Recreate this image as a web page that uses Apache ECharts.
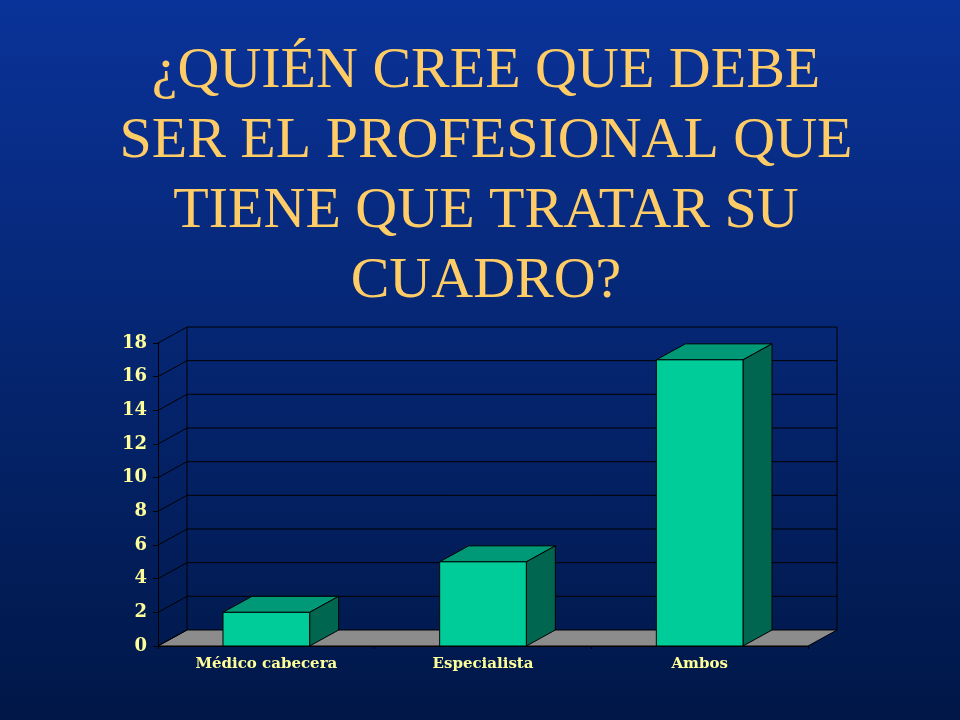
<!DOCTYPE html>
<html>
<head>
<meta charset="utf-8">
<script src="https://cdn.jsdelivr.net/npm/echarts@6/dist/echarts.min.js"></script>
<style>
html,body{margin:0;padding:0;width:960px;height:720px;overflow:hidden;}
#c{width:960px;height:720px;}
</style>
</head>
<body>
<div id="c"></div>
<script>
var categories = ['Médico cabecera', 'Especialista', 'Ambos'];
var values = [2, 5, 17];
var yTicks = [0, 2, 4, 6, 8, 10, 12, 14, 16, 18];
var titleText = '¿QUIÉN CREE QUE DEBE\nSER EL PROFESIONAL QUE\nTIENE QUE TRATAR SU\nCUADRO?';

var DX = 29, DY = -16;

var chart = echarts.init(document.getElementById('c'));

function frameRender(params, api) {
  var cs = params.coordSys;
  var x0 = cs.x, x1 = cs.x + cs.width;
  var yBase = api.coord([0, 0])[1];
  var children = [];
  children.push({
    type: 'polygon',
    shape: {points: [[x0, yBase], [x1, yBase], [x1 + DX, yBase + DY], [x0 + DX, yBase + DY]]},
    style: {fill: '#8c8c8c', stroke: '#000', lineWidth: 1}
  });
  var yTop = api.coord([0, yTicks[yTicks.length - 1]])[1];
  children.push({type: 'line', shape: {x1: x0 + DX, y1: yBase + DY, x2: x0 + DX, y2: yTop + DY}, style: {stroke: '#000', lineWidth: 1}});
  children.push({type: 'line', shape: {x1: x1 + DX, y1: yBase + DY, x2: x1 + DX, y2: yTop + DY}, style: {stroke: '#000', lineWidth: 1}});
  yTicks.forEach(function (v) {
    var y = api.coord([0, v])[1];
    children.push({type: 'line', shape: {x1: x0, y1: y, x2: x0 + DX, y2: y + DY}, style: {stroke: '#000', lineWidth: 1}});
    if (v > 0) {
      children.push({type: 'line', shape: {x1: x0 + DX, y1: y + DY, x2: x1 + DX, y2: y + DY}, style: {stroke: '#000', lineWidth: 1}});
    }
  });
  return {type: 'group', children: children};
}

function barRender(params, api) {
  var idx = api.value(0);
  var val = api.value(1);
  var top = api.coord([idx, val]);
  var base = api.coord([idx, 0]);
  var w = api.size([1, 0])[0] * 0.4;
  var xl = top[0] - w / 2, xr = top[0] + w / 2;
  var yt = top[1], yb = base[1];
  var st = {stroke: '#000', lineWidth: 1};
  return {
    type: 'group',
    children: [
      {type: 'polygon', shape: {points: [[xl, yt], [xr, yt], [xr + DX, yt + DY], [xl + DX, yt + DY]]}, style: Object.assign({fill: '#009977'}, st)},
      {type: 'polygon', shape: {points: [[xr, yt], [xr + DX, yt + DY], [xr + DX, yb + DY], [xr, yb]]}, style: Object.assign({fill: '#006650'}, st)},
      {type: 'rect', shape: {x: xl, y: yt, width: w, height: yb - yt}, style: Object.assign({fill: '#00CC99'}, st)}
    ]
  };
}

var option = {
  backgroundColor: {
    type: 'linear', x: 0, y: 0, x2: 0, y2: 1,
    colorStops: [{offset: 0, color: '#0A3399'}, {offset: 1, color: '#001747'}]
  },
  graphic: [{
    type: 'text',
    x: 486,
    y: 37,
    style: {
      text: titleText,
      align: 'center',
      verticalAlign: 'top',
      fontFamily: 'Liberation Serif',
      fontSize: 58,
      lineHeight: 70,
      fill: '#FFCC66'
    }
  }],
  grid: {left: 158, right: 152, top: 343, bottom: 74},
  xAxis: {
    type: 'category',
    data: categories,
    axisLine: {lineStyle: {color: '#000', width: 1}},
    axisTick: {show: true, length: 3, lineStyle: {color: '#000'}},
    axisLabel: {
      color: '#FFFF99',
      fontFamily: 'DejaVu Serif',
      fontWeight: 'bold',
      fontSize: 15,
      margin: 11
    },
    splitLine: {show: false}
  },
  yAxis: {
    type: 'value',
    min: 0, max: 18, interval: 2,
    axisLine: {show: true, lineStyle: {color: '#000', width: 1}},
    axisTick: {show: true, length: 5, lineStyle: {color: '#000'}},
    axisLabel: {
      color: '#FFFF99',
      fontFamily: 'DejaVu Serif',
      fontWeight: 'bold',
      fontSize: 18,
      margin: 11
    },
    splitLine: {show: false}
  },
  series: [
    {
      type: 'custom',
      renderItem: frameRender,
      data: [[0, 0]],
      silent: true,
      z: 1
    },
    {
      type: 'custom',
      renderItem: barRender,
      data: values.map(function (v, i) { return [i, v]; }),
      encode: {x: 0, y: 1},
      z: 2
    }
  ]
};
chart.setOption(option);
</script>
</body>
</html>
